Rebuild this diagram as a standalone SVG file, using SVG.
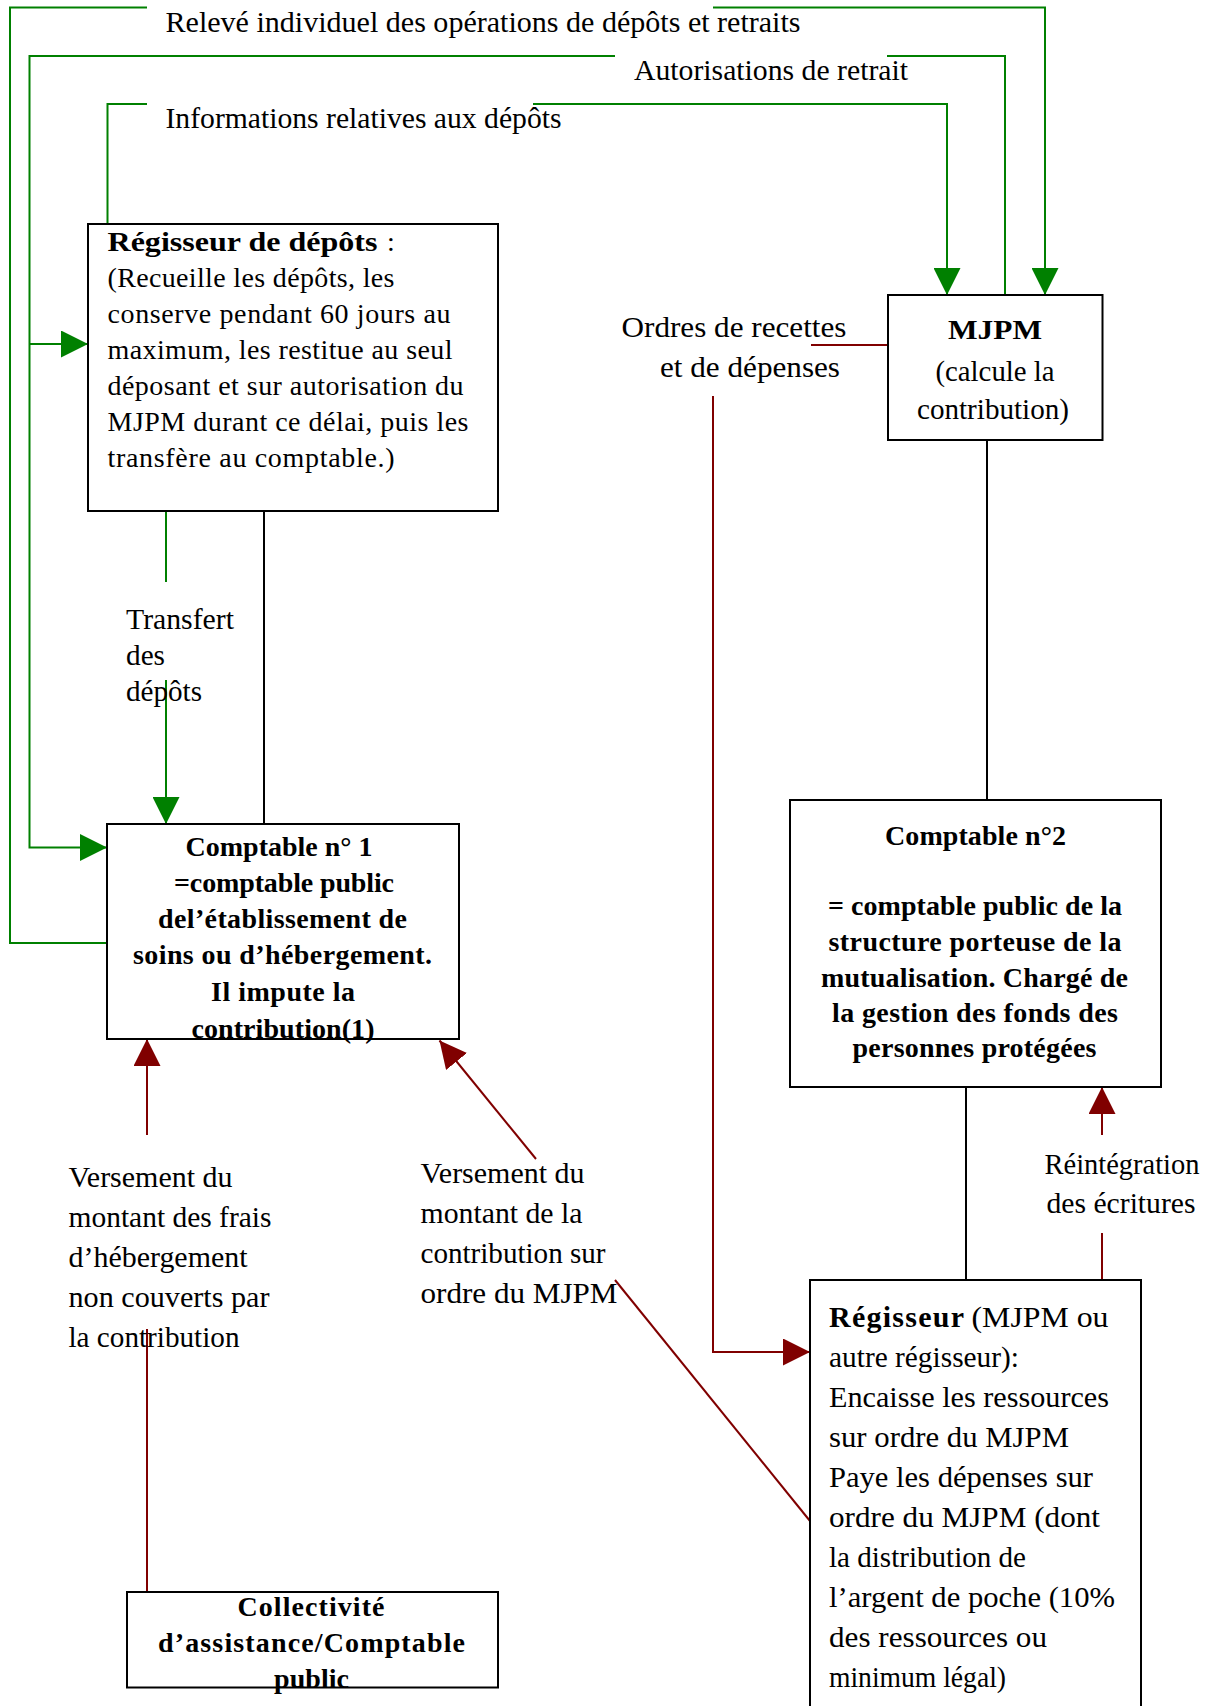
<svg xmlns="http://www.w3.org/2000/svg" width="1212" height="1706" viewBox="0 0 1212 1706">
<style>
  text { font-family: "Liberation Serif", "Times New Roman", serif; fill: #000; }
  .lbl { font-size: 30px; }
  .bx { font-size: 28px; }
  .bb { font-size: 28px; font-weight: bold; }
  .box { fill: #fff; stroke: #000; stroke-width: 2; }
  .g { fill: none; stroke: #008000; stroke-width: 2; }
  .r { fill: none; stroke: #800000; stroke-width: 2; }
  .k { fill: none; stroke: #000; stroke-width: 2; }
</style>
<defs>
  <marker id="ag" viewBox="0 0 10 10" refX="10" refY="5" markerUnits="userSpaceOnUse" markerWidth="27" markerHeight="27" orient="auto">
    <path d="M0,0 L10,5 L0,10 z" fill="#008000"/>
  </marker>
  <marker id="ar" viewBox="0 0 10 10" refX="10" refY="5" markerUnits="userSpaceOnUse" markerWidth="27" markerHeight="27" orient="auto">
    <path d="M0,0 L10,5 L0,10 z" fill="#800000"/>
  </marker>
</defs>
<rect width="1212" height="1706" fill="#fff"/>

<g id="connectors">
  <!-- Relevé individuel -->
  <path class="g" d="M107,943 H10 V7.5 H147"/>
  <path class="g" d="M713,7.5 H1045 V295" marker-end="url(#ag)"/>
  <!-- Autorisations de retrait -->
  <path class="g" d="M1005,295 V56 H887"/>
  <path class="g" d="M615,56 H29.5 V847.5 H107" marker-end="url(#ag)"/>
  <path class="g" d="M29.5,344 H88" marker-end="url(#ag)"/>
  <!-- Informations relatives aux dépôts -->
  <path class="g" d="M107.5,224 V104 H147"/>
  <path class="g" d="M533,104 H947 V295" marker-end="url(#ag)"/>
  <!-- Transfert des dépôts -->
  <path class="g" d="M166,511 V582"/>
  <path class="g" d="M166,680 V824" marker-end="url(#ag)"/>
  <!-- black links -->
  <path class="k" d="M264,511 V824"/>
  <path class="k" d="M987,440 V800"/>
  <path class="k" d="M966,1087 V1280"/>
  <!-- Ordres de recettes et de dépenses -->
  <path class="r" d="M888,345 H811"/>
  <path class="r" d="M713,396 V1352 H810" marker-end="url(#ar)"/>
  <!-- Réintégration des écritures -->
  <path class="r" d="M1102,1280 V1233"/>
  <path class="r" d="M1102,1135 V1087" marker-end="url(#ar)"/>
  <!-- Versement frais hébergement -->
  <path class="r" d="M147,1592 V1329"/>
  <path class="r" d="M147,1135 V1039" marker-end="url(#ar)"/>
  <!-- Versement contribution -->
  <path class="r" d="M810,1521 L615,1280"/>
  <path class="r" d="M536,1159 L439.5,1040.5" marker-end="url(#ar)"/>
</g>

<g id="labels">
  <text class="lbl" x="165.5" y="31.5" textLength="635" lengthAdjust="spacingAndGlyphs">Relevé individuel des opérations de dépôts et retraits</text>
  <text class="lbl" x="634" y="80" textLength="274" lengthAdjust="spacingAndGlyphs">Autorisations de retrait</text>
  <text class="lbl" x="165.5" y="128" textLength="396" lengthAdjust="spacingAndGlyphs">Informations relatives aux dépôts</text>
  <text class="lbl" x="126" y="629" textLength="108" lengthAdjust="spacingAndGlyphs">Transfert</text>
  <text class="lbl" x="126" y="665" textLength="39" lengthAdjust="spacingAndGlyphs">des</text>
  <text class="lbl" x="126" y="701" textLength="76" lengthAdjust="spacingAndGlyphs">dépôts</text>
  <text class="lbl" x="621.5" y="337" textLength="225" lengthAdjust="spacingAndGlyphs">Ordres de recettes</text>
  <text class="lbl" x="660" y="377" textLength="180" lengthAdjust="spacingAndGlyphs">et de dépenses</text>
  <text class="lbl" x="1122" y="1174" text-anchor="middle" textLength="155" lengthAdjust="spacingAndGlyphs">Réintégration</text>
  <text class="lbl" x="1121" y="1213" text-anchor="middle" textLength="149" lengthAdjust="spacingAndGlyphs">des écritures</text>
  <text class="lbl" x="68.5" y="1187" textLength="164" lengthAdjust="spacingAndGlyphs">Versement du</text>
  <text class="lbl" x="68.5" y="1227" textLength="203" lengthAdjust="spacingAndGlyphs">montant des frais</text>
  <text class="lbl" x="68.5" y="1267" textLength="179" lengthAdjust="spacingAndGlyphs">d’hébergement</text>
  <text class="lbl" x="68.5" y="1307" textLength="201" lengthAdjust="spacingAndGlyphs">non couverts par</text>
  <text class="lbl" x="68.5" y="1347" textLength="171" lengthAdjust="spacingAndGlyphs">la contribution</text>
  <text class="lbl" x="420.5" y="1183" textLength="164" lengthAdjust="spacingAndGlyphs">Versement du</text>
  <text class="lbl" x="420.5" y="1223" textLength="162" lengthAdjust="spacingAndGlyphs">montant de la</text>
  <text class="lbl" x="420.5" y="1263" textLength="185" lengthAdjust="spacingAndGlyphs">contribution sur</text>
  <text class="lbl" x="420.5" y="1303" textLength="197" lengthAdjust="spacingAndGlyphs">ordre du MJPM</text>
</g>

<g id="regisseur-depots">
  <rect class="box" x="88" y="224" width="410" height="287"/>
  <text class="bb" x="107.5" y="251" font-size="30"><tspan textLength="270" lengthAdjust="spacingAndGlyphs">Régisseur de dépôts</tspan><tspan class="bx" font-weight="normal" x="387">:</tspan></text>
  <text class="bx" x="107.5" y="287" textLength="287" lengthAdjust="spacing">(Recueille les dépôts, les</text>
  <text class="bx" x="107.5" y="323" textLength="343" lengthAdjust="spacing">conserve pendant 60 jours au</text>
  <text class="bx" x="107.5" y="359" textLength="345" lengthAdjust="spacing">maximum, les restitue au seul</text>
  <text class="bx" x="107.5" y="395" textLength="356" lengthAdjust="spacing">déposant et sur autorisation du</text>
  <text class="bx" x="107.5" y="431" textLength="361" lengthAdjust="spacing">MJPM durant ce délai, puis les</text>
  <text class="bx" x="107.5" y="467" textLength="287" lengthAdjust="spacing">transfère au comptable.)</text>
</g>

<g id="mjpm">
  <rect class="box" x="888" y="295" width="214.5" height="145"/>
  <text class="bb" x="995" y="339" text-anchor="middle" font-size="30" textLength="94" lengthAdjust="spacingAndGlyphs">MJPM</text>
  <text class="lbl" x="995" y="381" text-anchor="middle" textLength="119" lengthAdjust="spacingAndGlyphs">(calcule la</text>
  <text class="lbl" x="993" y="419" text-anchor="middle" textLength="152" lengthAdjust="spacingAndGlyphs">contribution)</text>
</g>

<g id="comptable1">
  <rect class="box" x="107" y="824" width="352" height="215"/>
  <text class="bb" x="279" y="856" text-anchor="middle" textLength="187" lengthAdjust="spacing">Comptable n° 1</text>
  <text class="bb" x="284" y="892" text-anchor="middle" textLength="220" lengthAdjust="spacing">=comptable public</text>
  <text class="bb" x="282.5" y="928" text-anchor="middle" textLength="249" lengthAdjust="spacing">del’établissement de</text>
  <text class="bb" x="282.5" y="964" text-anchor="middle" textLength="299" lengthAdjust="spacing">soins ou d’hébergement.</text>
  <text class="bb" x="283" y="1001" text-anchor="middle" textLength="144" lengthAdjust="spacing">Il impute la</text>
  <text class="bb" x="283" y="1038" text-anchor="middle" textLength="183" lengthAdjust="spacing">contribution(1)</text>
</g>

<g id="comptable2">
  <rect class="box" x="790" y="800" width="371" height="287"/>
  <text class="bb" x="975.5" y="845" text-anchor="middle" textLength="181" lengthAdjust="spacing">Comptable n°2</text>
  <text class="bb" x="975" y="915" text-anchor="middle" textLength="294" lengthAdjust="spacing">= comptable public de la</text>
  <text class="bb" x="975" y="951" text-anchor="middle" textLength="293" lengthAdjust="spacing">structure porteuse de la</text>
  <text class="bb" x="974.5" y="987" text-anchor="middle" textLength="307" lengthAdjust="spacing">mutualisation. Chargé de</text>
  <text class="bb" x="975" y="1022" text-anchor="middle" textLength="286" lengthAdjust="spacing">la gestion des fonds des</text>
  <text class="bb" x="974.5" y="1057" text-anchor="middle" textLength="244" lengthAdjust="spacing">personnes protégées</text>
</g>

<g id="regisseur">
  <rect class="box" x="810" y="1280" width="331" height="440"/>
  <text class="lbl" x="829" y="1327"><tspan font-weight="bold" textLength="135" lengthAdjust="spacing">Régisseur</tspan><tspan x="971.5" textLength="137" lengthAdjust="spacingAndGlyphs">(MJPM ou</tspan></text>
  <text class="lbl" x="829" y="1367" textLength="190" lengthAdjust="spacingAndGlyphs">autre régisseur):</text>
  <text class="lbl" x="829" y="1407" textLength="280" lengthAdjust="spacingAndGlyphs">Encaisse les ressources</text>
  <text class="lbl" x="829" y="1447" textLength="240" lengthAdjust="spacingAndGlyphs">sur ordre du MJPM</text>
  <text class="lbl" x="829" y="1487" textLength="264" lengthAdjust="spacingAndGlyphs">Paye les dépenses sur</text>
  <text class="lbl" x="829" y="1527" textLength="271" lengthAdjust="spacingAndGlyphs">ordre du MJPM (dont</text>
  <text class="lbl" x="829" y="1567" textLength="197" lengthAdjust="spacingAndGlyphs">la distribution de</text>
  <text class="lbl" x="829" y="1607" textLength="286" lengthAdjust="spacingAndGlyphs">l’argent de poche (10%</text>
  <text class="lbl" x="829" y="1647" textLength="218" lengthAdjust="spacingAndGlyphs">des ressources ou</text>
  <text class="lbl" x="829" y="1687" textLength="177" lengthAdjust="spacingAndGlyphs">minimum légal)</text>
</g>

<g id="collectivite">
  <rect class="box" x="127" y="1592" width="371" height="95.5"/>
  <text class="bb" x="311" y="1616" text-anchor="middle" textLength="147" lengthAdjust="spacing">Collectivité</text>
  <text class="bb" x="311.5" y="1652" text-anchor="middle" textLength="307" lengthAdjust="spacing">d’assistance/Comptable</text>
  <text class="bb" x="311.5" y="1688" text-anchor="middle" textLength="75" lengthAdjust="spacing">public</text>
</g>
</svg>
